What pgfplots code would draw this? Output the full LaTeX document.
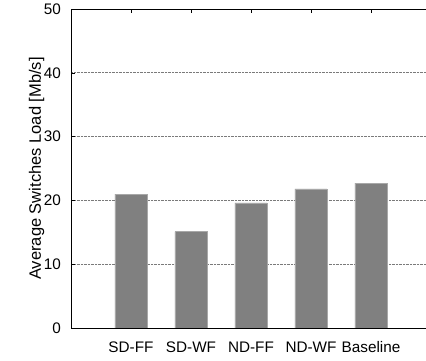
\documentclass[border=0pt]{standalone}
\usepackage{fontspec}
\setmainfont{Liberation Sans}
\usepackage{pgfplots}
\pgfplotsset{compat=1.18}

\definecolor{barfill}{HTML}{808080}
\definecolor{baredge}{HTML}{A8A8A8}
\definecolor{gridcol}{HTML}{7A7A7A}

\begin{document}
\begin{tikzpicture}[x=1pt,y=1pt]
\begin{axis}[
  name=ax,
  at={(71pt,33pt)}, anchor=south west,
  scale only axis,
  width=360pt, height=319pt,
  xmin=-1, xmax=5,
  ymin=0, ymax=50,
  ytick={0,10,20,30,40,50},
  xtick={0,1,2,3,4},
  xticklabels={SD-FF,SD-WF,ND-FF,ND-WF,Baseline},
  tick align=inside,
  xtick pos=both,
  ytick pos=left,
  major tick length=4pt,
  tick style={black, line width=0.6pt},
  axis line style={black, line width=0.9pt},
  ymajorgrids,
  major grid style={gridcol, densely dotted, line width=0.7pt},
  /pgf/number format/assume math mode=true,
  tick label style={font=\fontsize{15.3}{18}\selectfont},
  yticklabel style={inner sep=0pt, xshift=-10pt},
  xticklabel style={inner sep=0pt, anchor=base, yshift=-25pt},
  ylabel={Average Switches Load [Mb/s]},
  ylabel style={font=\fontsize{16.5}{19}\selectfont},
  ylabel shift=-4pt,
]
\addplot[ybar, bar width=32pt, fill=barfill, draw=baredge, line width=0.8pt]
  coordinates {(0,21.0) (1,15.1) (2,19.6) (3,21.8) (4,22.7)};
\end{axis}
\pgfresetboundingbox
\path[use as bounding box] (0,0) rectangle (426,361);
\end{tikzpicture}
\end{document}
